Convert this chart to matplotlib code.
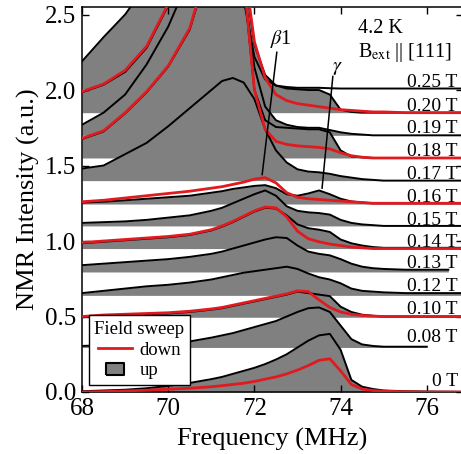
import numpy as np
import matplotlib
matplotlib.use('Agg')
import matplotlib.pyplot as plt
from matplotlib.lines import Line2D

plt.rcParams['font.family'] = ['Liberation Serif', 'DejaVu Serif']
plt.rcParams['mathtext.fontset'] = 'stix'

freq = [68, 68.5, 69, 69.5, 70, 70.5, 71, 71.25, 71.5, 71.75, 72, 72.25, 72.5, 72.75,
        73, 73.25, 73.5, 73.75, 74, 74.25, 74.5, 74.75, 75, 75.5, 76, 76.5, 77]
nan = np.nan

# field sweep up (black line, gray fill)
up_025 = [2.19, 2.35, 2.50, 2.70, 2.95, 3.25, 3.55, 3.65, 3.50, 2.60, 2.22, 2.07, 2.03, 2.02,
          2.015, 2.015, 2.015, 2.012, 2.01, 2.01, 2.01, 2.01, 2.01, 2.01, 2.01, 2.01, 2.01]
up_020 = [1.985, 2.035, 2.12, 2.28, 2.56, 2.94, 3.30, 3.45, 3.35, 2.82, 2.30, 2.10, 2.03, 2.01,
          2.005, 2.0, 2.0, 1.97, 1.87, 1.855, 1.85, 1.85, 1.85, 1.85, 1.85, 1.85, 1.85]
up_019 = [1.77, 1.85, 1.97, 2.17, 2.42, 2.75, 3.10, 3.25, 3.15, 2.70, 2.15, 1.89, 1.80, 1.77,
          1.755, 1.75, 1.75, 1.735, 1.72, 1.71, 1.705, 1.70, 1.70, 1.70, 1.70, 1.70, 1.70]
up_018 = [1.675, 1.725, 1.845, 1.985, 2.155, 2.40, 2.88, 3.12, 3.12, 2.72, 2.00, 1.80, 1.755, 1.75,
          1.745, 1.74, 1.74, 1.72, 1.60, 1.56, 1.555, 1.55, 1.55, 1.55, 1.55, 1.55, 1.55]
up_017 = [1.48, 1.50, 1.575, 1.65, 1.76, 1.88, 2.00, 2.06, 2.08, 2.05, 1.94, 1.74, 1.60, 1.52,
          1.475, 1.46, 1.455, 1.445, 1.43, 1.42, 1.41, 1.405, 1.40, 1.40, 1.40, 1.40, 1.40]
up_016 = [1.255, 1.26, 1.27, 1.28, 1.29, 1.30, 1.32, 1.33, 1.345, 1.355, 1.365, 1.37, 1.35, 1.31,
          1.30, 1.315, 1.335, 1.31, 1.28, 1.262, 1.255, 1.25, 1.25, 1.25, 1.25, 1.25, 1.25]
up_015 = [1.12, 1.125, 1.13, 1.14, 1.155, 1.17, 1.20, 1.22, 1.25, 1.28, 1.31, 1.335, 1.30, 1.23,
          1.20, 1.19, 1.185, 1.175, 1.14, 1.12, 1.11, 1.105, 1.10, 1.10, 1.10, 1.10, 1.10]
up_014 = [0.985, 0.995, 1.005, 1.015, 1.025, 1.04, 1.07, 1.095, 1.125, 1.16, 1.195, 1.22, 1.215, 1.17,
          1.11, 1.085, 1.075, 1.06, 1.01, 0.985, 0.97, 0.96, 0.955, 0.955, 0.955, 0.955, 0.955]
up_013 = [0.84, 0.85, 0.86, 0.87, 0.88, 0.895, 0.915, 0.93, 0.95, 0.97, 0.99, 1.01, 1.025, 1.02,
          0.97, 0.93, 0.915, 0.905, 0.88, 0.85, 0.83, 0.82, 0.815, 0.81, 0.81, 0.81, nan]
up_012 = [0.655, 0.67, 0.685, 0.70, 0.71, 0.725, 0.745, 0.76, 0.775, 0.79, 0.80, 0.81, 0.82, 0.83,
          0.815, 0.785, 0.76, 0.745, 0.72, 0.685, 0.67, 0.665, 0.66, 0.655, 0.655, 0.655, 0.655]
up_010 = [0.495, 0.505, 0.51, 0.515, 0.52, 0.53, 0.545, 0.555, 0.57, 0.585, 0.60, 0.615, 0.63, 0.645,
          0.665, 0.655, 0.645, 0.635, 0.565, 0.53, 0.512, 0.505, 0.50, 0.50, 0.50, 0.50, 0.50]
up_008 = [0.305, 0.31, 0.315, 0.32, 0.325, 0.335, 0.36, 0.375, 0.39, 0.41, 0.43, 0.45, 0.47, 0.50,
          0.53, 0.555, 0.56, 0.53, 0.44, 0.35, 0.315, 0.305, 0.30, 0.30, 0.30, nan, nan]
up_000 = [0.005, 0.01, 0.015, 0.025, 0.04, 0.06, 0.085, 0.10, 0.12, 0.14, 0.16, 0.185, 0.215, 0.25,
          0.295, 0.34, 0.375, 0.385, 0.28, 0.08, 0.035, 0.02, 0.01, 0.005, 0.003, 0.002, 0.0]
up_base = [2.01, 1.85, 1.70, 1.55, 1.40, 1.245, 1.10, 0.95, 0.795, 0.64, 0.495, 0.295, 0.0]

# field sweep down (red line)
down_020 = [1.99, 2.04, 2.13, 2.29, 2.57, 2.95, 3.30, 3.45, 3.35, 2.85, 2.32, 2.08, 1.97, 1.93,
            1.91, 1.90, 1.89, 1.88, 1.87, 1.865, 1.86, 1.855, 1.855, 1.85, 1.85, 1.85, 1.85]
down_018 = [1.68, 1.73, 1.85, 1.99, 2.16, 2.41, 2.90, 3.15, 3.15, 2.75, 2.00, 1.74, 1.66, 1.64,
            1.63, 1.625, 1.62, 1.61, 1.585, 1.565, 1.555, 1.55, 1.55, 1.55, 1.55, 1.55, 1.55]
down_016 = [1.26, 1.27, 1.285, 1.30, 1.315, 1.33, 1.35, 1.36, 1.375, 1.39, 1.41, 1.42, 1.385, 1.32,
            1.29, 1.28, 1.275, 1.27, 1.265, 1.26, 1.255, 1.25, 1.25, 1.25, 1.25, 1.25, 1.25]
down_014 = [0.99, 1.00, 1.01, 1.02, 1.03, 1.045, 1.075, 1.10, 1.13, 1.165, 1.20, 1.225, 1.22, 1.16,
            1.065, 1.015, 0.995, 0.98, 0.97, 0.96, 0.955, 0.95, 0.95, 0.95, 0.95, 0.95, 0.95]
down_010 = [0.50, 0.51, 0.515, 0.52, 0.525, 0.535, 0.55, 0.56, 0.575, 0.59, 0.605, 0.62, 0.635, 0.65,
            0.67, 0.665, 0.61, 0.56, 0.53, 0.515, 0.507, 0.503, 0.50, 0.50, 0.50, 0.50, 0.50]
down_000 = [0.0, 0.003, 0.007, 0.012, 0.018, 0.025, 0.035, 0.042, 0.05, 0.058, 0.07, 0.085, 0.10, 0.12,
            0.145, 0.175, 0.21, 0.22, 0.14, 0.05, 0.02, 0.01, 0.005, 0.002, 0.0, 0.0, 0.0]

field_labels = ['0.25 T', '0.20 T', '0.19 T', '0.18 T', '0.17 T', '0.16 T', '0.15 T',
                '0.14 T', '0.13 T', '0.12 T', '0.10 T', '0.08 T', '0 T']
label_levels = [2.01, 1.855, 1.71, 1.555, 1.40, 1.25, 1.10, 0.955, 0.81, 0.66, 0.51, 0.325, 0.03]

up_curves = [up_025, up_020, up_019, up_018, up_017, up_016, up_015,
             up_014, up_013, up_012, up_010, up_008, up_000]
down_curves = [down_020, down_018, down_016, down_014, down_010, down_000]

gray = '#808080'
red = '#e01a1f'

fig = plt.figure(figsize=(4.61, 4.54), dpi=100)
ax = fig.add_axes([82 / 461, 62 / 454, 381 / 461, 385 / 454])

x = np.array(freq)
for curve, base in zip(up_curves, up_base):
    y = np.array(curve, dtype=float)
    ax.fill_between(x, base, np.maximum(y, base), color=gray, lw=0, zorder=1)
for curve in up_curves:
    ax.plot(x, curve, color='black', lw=1.4, zorder=2)
for curve in down_curves:
    ax.plot(x, curve, color=red, lw=2.0, zorder=3)

# peak markers
ax.plot([72.52, 72.18], [2.25, 1.44], color='black', lw=1.1, zorder=4)
ax.plot([73.82, 73.57], [2.09, 1.35], color='black', lw=1.1, zorder=4)
ax.text(72.62, 2.34, r'$\beta$1', fontsize=14.5, ha='center', va='center', zorder=5)
ax.text(73.92, 2.15, r'$\gamma$', fontsize=14.5, ha='center', va='center', zorder=5)

ax.text(74.4, 2.38, '4.2 K', fontsize=14.5, ha='left', va='baseline', zorder=5)
ax.text(74.4, 2.22, r'B$_{\rm ext}$ || [111]', fontsize=14.5, ha='left', va='baseline', zorder=5)

for lab, lev in zip(field_labels, label_levels):
    ax.text(76.72, lev + 0.008, lab, fontsize=14, ha='right', va='baseline', zorder=5)

ax.set_xlim(68, 76.84)
ax.set_ylim(0, 2.55)
ax.set_xticks([68, 70, 72, 74, 76])
ax.set_yticks([0.0, 0.5, 1.0, 1.5, 2.0, 2.5])
ax.tick_params(direction='in', top=True, right=True, length=5, width=1, labelsize=18, pad=4)
for s in ax.spines.values():
    s.set_linewidth(1.1)
ax.set_xlabel('Frequency (MHz)', fontsize=19, labelpad=6)
ax.set_ylabel('NMR Intensity (a.u.)', fontsize=19, labelpad=4)

handles = [Line2D([0], [0], color=red, lw=2.0),
           Line2D([0], [0], ls='None', marker=[(-1.6, -1), (1.6, -1), (1.6, 1), (-1.6, 1), (-1.6, -1)],
                  markersize=13, markerfacecolor=gray, markeredgecolor='black', markeredgewidth=1.5)]
leg = ax.legend(handles, ['down', 'up'], title='Field sweep', loc='lower left',
                bbox_to_anchor=(0.018, 0.018), borderaxespad=0, fontsize=13.5, title_fontsize=13.5,
                fancybox=False, framealpha=1, edgecolor='black', handlelength=1.8,
                handletextpad=0.4, borderpad=0.3, labelspacing=0.2)
leg.get_frame().set_linewidth(1.0)
leg.set_zorder(10)

fig.savefig('out.png', dpi=100)
